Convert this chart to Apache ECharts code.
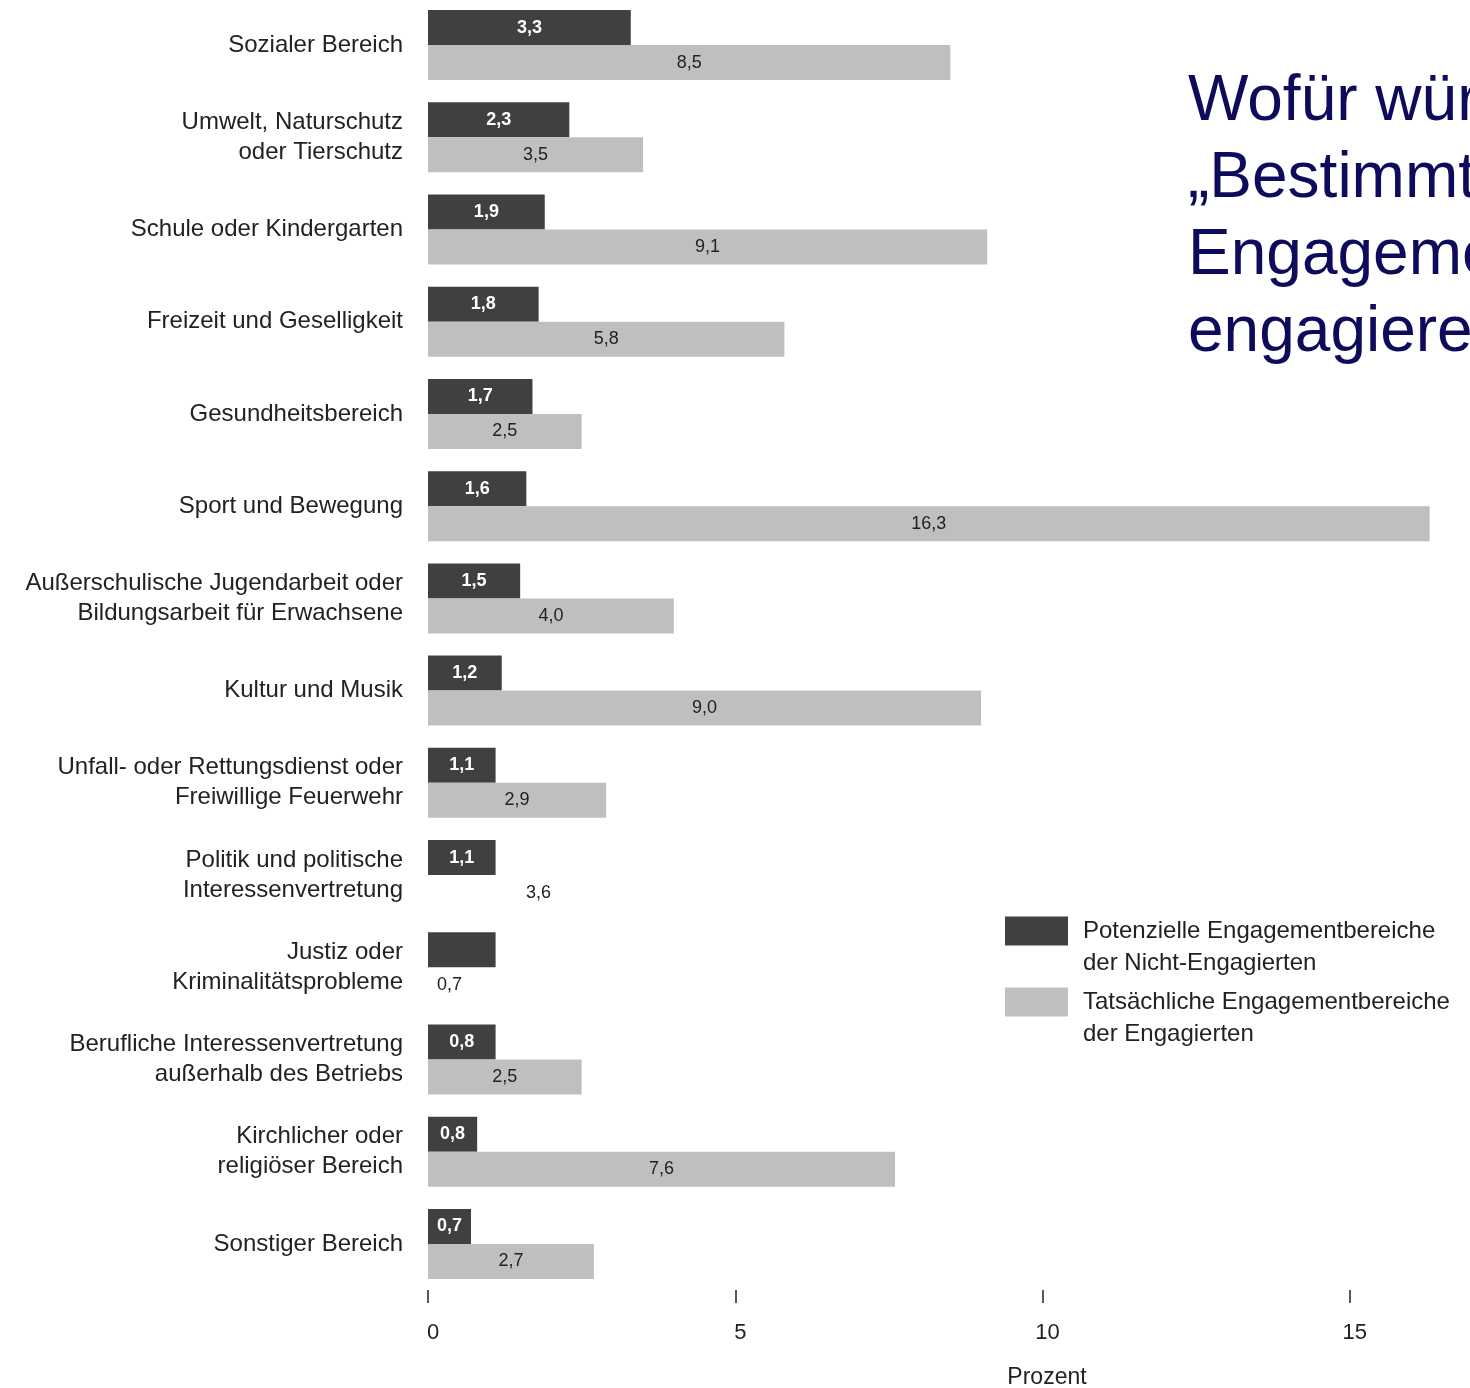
<!DOCTYPE html>
<html>
<head>
<meta charset="utf-8">
<script src="https://cdn.jsdelivr.net/npm/echarts@6/dist/echarts.min.js"></script>
<style>
  html, body { margin: 0; padding: 0; background: #fff; }
  #chart { width: 1470px; height: 1388px; }
</style>
</head>
<body>
<div id="chart"></div>
<script>
const categories = [
    'Sozialer Bereich',
    'Umwelt, Naturschutz\noder Tierschutz',
    'Schule oder Kindergarten',
    'Freizeit und Geselligkeit',
    'Gesundheitsbereich',
    'Sport und Bewegung',
    'Außerschulische Jugendarbeit oder\nBildungsarbeit für Erwachsene',
    'Kultur und Musik',
    'Unfall- oder Rettungsdienst oder\nFreiwillige Feuerwehr',
    'Politik und politische\nInteressenvertretung',
    'Justiz oder\nKriminalitätsprobleme',
    'Berufliche Interessenvertretung\naußerhalb des Betriebs',
    'Kirchlicher oder\nreligiöser Bereich',
    'Sonstiger Bereich'
];

// Potenzielle Engagementbereiche der Nicht-Engagierten (bar length / printed label)
const potenzielleValues = [3.3, 2.3, 1.9, 1.8, 1.7, 1.6, 1.5, 1.2, 1.1, 1.1, 1.1, 1.1, 0.8, 0.7];
const potenzielleLabels = ['3,3', '2,3', '1,9', '1,8', '1,7', '1,6', '1,5', '1,2', '1,1', '1,1', '', '0,8', '0,8', '0,7'];

// Tatsächliche Engagementbereiche der Engagierten
const tatsaechlicheValues = [8.5, 3.5, 9.1, 5.8, 2.5, 16.3, 4.0, 9.0, 2.9, 3.6, 0.7, 2.5, 7.6, 2.7];
const tatsaechlicheDrawn = [true, true, true, true, true, true, true, true, true, false, false, true, true, true];

const xTicks = [0, 5, 10, 15, 20];

const nameDark = 'Potenzielle Engagementbereiche\nder Nicht-Engagierten';
const nameLight = 'Tatsächliche Engagementbereiche\nder Engagierten';

const fontFamily = '"Liberation Sans", Arial, sans-serif';
const textColor = '#222222';
const darkColor = '#404040';
const lightColor = '#bfbfbf';

const chart = echarts.init(document.getElementById('chart'));

const legendBase = {
    orient: 'vertical',
    left: 1005,
    padding: 0,
    itemWidth: 63,
    itemHeight: 29,
    icon: 'rect',
    selectedMode: false,
    // blank first line so that the icon sits beside the first text line
    formatter: function (name) { return ' \n' + name; },
    textStyle: {
        fontFamily: fontFamily,
        fontSize: 24,
        lineHeight: 32,
        color: textColor,
        padding: [0, 0, 0, 10]
    }
};

var option = {
    backgroundColor: '#ffffff',
    animation: false,
    textStyle: { fontFamily: fontFamily },
    grid: {
        left: 428,
        width: 1229,
        top: -1,
        height: 1291,
        containLabel: false,
        outerBoundsMode: 'none'
    },
    legend: [
        Object.assign({}, legendBase, { top: 883, data: [nameDark] }),
        Object.assign({}, legendBase, { top: 954, data: [nameLight] })
    ],
    xAxis: {
        type: 'value',
        min: xTicks[0],
        max: xTicks[xTicks.length - 1],
        interval: xTicks[1] - xTicks[0],
        axisLine: { show: false },
        axisTick: { show: true, length: 13, lineStyle: { color: textColor, width: 1.5 } },
        splitLine: { show: false },
        axisLabel: {
            margin: 32,
            fontSize: 22,
            color: textColor,
            padding: [0, 0, 0, 10]
        },
        name: 'Prozent',
        nameLocation: 'middle',
        nameGap: 76,
        nameTextStyle: {
            fontSize: 23,
            color: textColor,
            padding: [0, 0, 0, 9]
        }
    },
    yAxis: {
        type: 'category',
        inverse: true,
        data: categories,
        axisLine: { show: false },
        axisTick: { show: false },
        axisLabel: {
            margin: 25,
            fontSize: 24,
            lineHeight: 30,
            color: textColor,
            align: 'right'
        }
    },
    series: [
        {
            name: nameDark,
            type: 'bar',
            barWidth: 35,
            barGap: '0%',
            itemStyle: { color: darkColor },
            label: {
                show: true,
                position: 'inside',
                color: '#ffffff',
                fontSize: 18,
                fontWeight: 'bold',
                formatter: function (p) { return potenzielleLabels[p.dataIndex]; }
            },
            data: potenzielleValues
        },
        {
            name: nameLight,
            type: 'bar',
            barWidth: 35,
            barGap: '0%',
            itemStyle: { color: lightColor },
            label: {
                show: true,
                position: 'inside',
                color: textColor,
                fontSize: 18,
                formatter: function (p) { return p.value.toFixed(1).replace('.', ','); }
            },
            data: tatsaechlicheValues.map(function (v, i) {
                return tatsaechlicheDrawn[i] ? v : { value: v, itemStyle: { color: 'rgba(0,0,0,0)' } };
            })
        }
    ],
    graphic: [
        {
            type: 'text',
            left: 1188,
            top: 64,
            style: {
                text: 'Wofür würden sich\n„Bestimmt\nEngagementbereite“\nengagieren?',
                fontFamily: fontFamily,
                fontSize: 64,
                lineHeight: 77,
                fill: '#0e0b5c'
            }
        }
    ]
};

option && chart.setOption(option);
window.addEventListener('resize', chart.resize);
</script>
</body>
</html>
